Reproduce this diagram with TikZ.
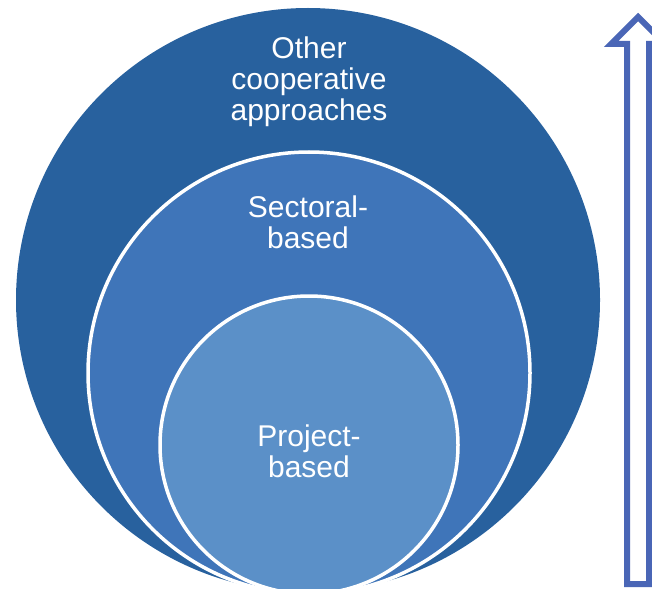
\documentclass[tikz,border=0pt]{standalone}
\usepackage{fontspec}
\setmainfont{Liberation Sans}
\usepackage{xcolor}
\definecolor{ringOuter}{HTML}{28619E}
\definecolor{ringMid}{HTML}{3F75B9}
\definecolor{ringInner}{HTML}{5B90C8}
\definecolor{arrowEdge}{HTML}{4A66B6}
\tikzset{
  ring/.style={circle,inner sep=0pt,draw=white,line width=3.5pt},
  label/.style={anchor=north,inner sep=0pt,align=center,text=white,font=\fontsize{30}{31}\selectfont},
}
\begin{document}
\begin{tikzpicture}[x=1pt,y=-1pt]
  \useasboundingbox (0,0) rectangle (652,588);
  \clip (0,0) rectangle (652,588);
  % nested circles, all touching at the bottom
  \node[ring,fill=ringOuter,draw=none,minimum size=584pt] (outer) at (308,300) {};
  \node[ring,fill=ringMid,minimum size=442pt] (mid) at (309,373) {};
  \node[ring,fill=ringInner,minimum size=298pt] (inner) at (309,445) {};
  \node[label] (lblOuter) at (309,37) {Other\\cooperative\\approaches};
  \node[label] (lblMid) at (308,196) {Sectoral-\\based};
  \node[label] (lblInner) at (309,425) {Project-\\based};
  % hollow arrow on the right
  \draw[arrowEdge,fill=white,line width=6pt,line join=miter]
    (627,584) -- (627,44) -- (611,44) -- (638,17) -- (665,44) -- (649,44) -- (649,584) -- cycle;
\end{tikzpicture}
\end{document}
